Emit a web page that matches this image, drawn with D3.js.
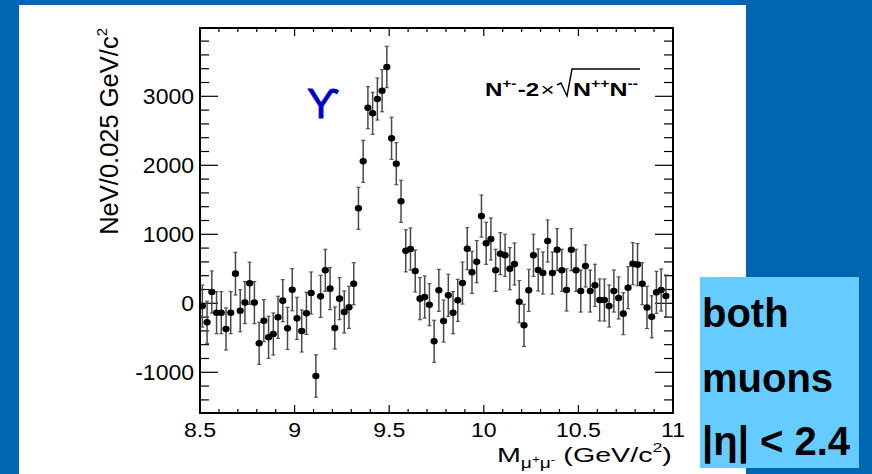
<!DOCTYPE html>
<html>
<head>
<meta charset="utf-8">
<script src="https://cdn.jsdelivr.net/npm/d3@7"></script>
<style>
html,body{margin:0;padding:0;background:#0066B2;}
svg{display:block;}
text{font-family:"Liberation Sans",Arial,Helvetica,sans-serif;}
</style>
</head>
<body>
<svg id="chart" width="872" height="474"></svg>
<script>
// ---- data ----
const binStart = 8.5;
const binWidth = 0.025;
const values = [
  -40, -275, 164, -136, -136, -372, -136, 430, -107, 10,
  290, 10, -580, -252, -493, -445, -203, 38, -363, 197,
  -218, -401, -145, 149, -1054, 101, 478, 212, -358, 67,
  -126, -58, 284, 1377, 2058, 2835, 2754, 2961, 3081, 3425,
  2391, 2023, 1478, 760, 787, 468, 67, 91, -20, -551,
  188, -257, 116, -136, 43, 294, 791, 449, 603, 1264,
  870, 932, 478, 719, 696, 501, 570, 23, -319, 188,
  696, 483, 439, 903, 439, 777, 478, 193, 777, 478,
  178, 541, 178, 261, 48, 48, -39, 178, 77, -150,
  226, 574, 560, 284, -60, -196, 159, 193, 106
];
const errors = [
  305, 305, 305, 305, 305, 305, 305, 310, 305, 305,
  305, 305, 305, 305, 305, 305, 305, 305, 305, 305,
  305, 305, 305, 305, 307, 305, 305, 305, 305, 305,
  305, 305, 305, 305, 305, 305, 305, 305, 305, 300,
  305, 305, 305, 305, 305, 305, 305, 305, 305, 305,
  305, 305, 305, 305, 305, 305, 305, 305, 305, 305,
  305, 305, 305, 305, 305, 305, 305, 305, 305, 305,
  305, 305, 305, 305, 305, 305, 305, 305, 305, 305,
  305, 305, 305, 305, 305, 305, 305, 305, 305, 305,
  305, 305, 305, 305, 305, 305, 305, 305, 305
];
const xTickValues = [8.5, 9, 9.5, 10, 10.5, 11];
const xTickLabels = ["8.5", "9", "9.5", "10", "10.5", "11"];
const yTickValues = [-1000, 0, 1000, 2000, 3000];
const yTickLabels = ["-1000", "0", "1000", "2000", "3000"];
const xDomain = [8.5, 11];
const yDomain = [-1590, 3990];

// ---- layout ----
const svg = d3.select("#chart");
const L = 200, R = 673, T = 28, B = 413;
const x = d3.scaleLinear().domain(xDomain).range([L, R]);
const y = d3.scaleLinear().domain(yDomain).range([B, T]);

// stretch a text element horizontally so that it spans `width` px
function fitWidth(sel, ax, ay, width, anchor) {
  const w = sel.node().getComputedTextLength();
  const s = width / w;
  const x0 = anchor === "end" ? ax - width : ax;
  sel.attr("x", 0).attr("y", 0).attr("text-anchor", "start")
     .attr("transform", `translate(${x0},${ay}) scale(${s},1)`);
}

// backgrounds
svg.append("rect").attr("x",0).attr("y",0).attr("width",872).attr("height",474).attr("fill","#0066B2");
svg.append("rect").attr("x",19).attr("y",5).attr("width",727).attr("height",469).attr("fill","#ffffff");

// ticks
const g = svg.append("g");
const xMinor = d3.range(85, 111).map(v => v/10);
const yMinor = d3.range(-14, 40, 2).map(v => v*100);
xMinor.forEach(v => {
  const major = Math.abs(v*2 - Math.round(v*2)) < 1e-6;
  const len = major ? 8 : 4;
  g.append("line").attr("x1",x(v)).attr("x2",x(v)).attr("y1",B).attr("y2",B-len).attr("stroke","#000").attr("stroke-width",1.2);
  g.append("line").attr("x1",x(v)).attr("x2",x(v)).attr("y1",T).attr("y2",T+len).attr("stroke","#000").attr("stroke-width",1.2);
});
yMinor.forEach(v => {
  const major = v % 1000 === 0;
  const len = major ? 18 : 9;
  g.append("line").attr("x1",L).attr("x2",L+len).attr("y1",y(v)).attr("y2",y(v)).attr("stroke","#000").attr("stroke-width",1.2);
  g.append("line").attr("x1",R).attr("x2",R-len).attr("y1",y(v)).attr("y2",y(v)).attr("stroke","#000").attr("stroke-width",1.2);
});

// frame
svg.append("rect").attr("x",L).attr("y",T).attr("width",R-L).attr("height",B-T)
  .attr("fill","none").attr("stroke","#000").attr("stroke-width",2);

// tick labels (slightly wide lettering, as in the reference)
xTickValues.forEach((v,i) => {
  svg.append("text").attr("transform",`translate(${x(v)},437) scale(1.1,1)`).attr("text-anchor","middle")
    .attr("font-size",21).attr("fill","#000").text(xTickLabels[i]);
});
yTickValues.forEach((v,i) => {
  svg.append("text").attr("transform",`translate(194,${y(v)+8}) scale(1.07,1)`).attr("text-anchor","end")
    .attr("font-size",21.5).attr("fill","#000").text(yTickLabels[i]);
});

// axis titles
const xt = svg.append("text").attr("font-size",21).attr("fill","#000");
xt.append("tspan").text("M");
xt.append("tspan").attr("font-size",14).attr("dy",6).text("μ");
xt.append("tspan").attr("font-size",10).attr("dy",-5).text("+");
xt.append("tspan").attr("font-size",14).attr("dy",5).text("μ");
xt.append("tspan").attr("font-size",10).attr("dy",-5).text("-");
xt.append("tspan").attr("font-size",21).attr("dy",-1).text(" (GeV/c");
xt.append("tspan").attr("font-size",13).attr("dy",-10).text("2");
xt.append("tspan").attr("font-size",21).attr("dy",10).text(")");
fitWidth(xt, 672, 462, 175, "end");

const yt = svg.append("text").attr("transform","translate(118,28) rotate(-90)")
  .attr("text-anchor","end").attr("font-size",25.5).attr("fill","#000");
yt.append("tspan").text("NeV/0.025 GeV/c");
yt.append("tspan").attr("font-size",15).attr("dy",-11).text("2");

// data: error bars + points
const pts = values.map((v,i) => ({x: binStart + binWidth*(i+0.5), v: v, e: errors[i]}));
const eb = svg.append("g").attr("stroke","#4a4a4a").attr("stroke-width",1.5);
pts.forEach(p => {
  const cx = x(p.x);
  eb.append("line").attr("x1",cx).attr("x2",cx).attr("y1",y(p.v-p.e)).attr("y2",y(p.v+p.e));
  eb.append("line").attr("x1",cx-2).attr("x2",cx+2).attr("y1",y(p.v-p.e)).attr("y2",y(p.v-p.e)).attr("stroke-width",1.1);
  eb.append("line").attr("x1",cx-2).attr("x2",cx+2).attr("y1",y(p.v+p.e)).attr("y2",y(p.v+p.e)).attr("stroke-width",1.1);
});
svg.append("g").selectAll("ellipse").data(pts).join("ellipse")
  .attr("cx",d => x(d.x)).attr("cy",d => y(d.v)).attr("rx",3.6).attr("ry",3.3).attr("fill","#000");

// Upsilon label
svg.append("text").attr("x",323).attr("y",118).attr("text-anchor","middle")
  .attr("font-family","'DejaVu Serif','Liberation Serif',serif").attr("font-size",42)
  .attr("fill","#0000CC").attr("stroke","#0000CC").attr("stroke-width",0.9).text("ϒ");

// formula legend
const f1 = svg.append("text").attr("font-size",19).attr("font-weight","bold").attr("fill","#000");
f1.append("tspan").text("N");
f1.append("tspan").attr("font-size",12).attr("dy",-8).text("+-");
f1.append("tspan").attr("font-size",19).attr("dy",8).attr("dx",1).text("-2");
f1.append("tspan").attr("font-weight","normal").attr("dx",1).text("×");
fitWidth(f1, 485, 96, 67, "start");
svg.append("path").attr("d","M557,85 L561,83 L567,96 L572,69 L640,69")
  .attr("fill","none").attr("stroke","#000").attr("stroke-width",1.4);
const f2 = svg.append("text").attr("font-size",19).attr("font-weight","bold").attr("fill","#000");
f2.append("tspan").text("N");
f2.append("tspan").attr("font-size",12).attr("dy",-8).text("++");
f2.append("tspan").attr("font-size",19).attr("dy",8).text("N");
f2.append("tspan").attr("font-size",12).attr("dy",-8).text("--");
fitWidth(f2, 573, 96, 65, "start");

// info box
svg.append("rect").attr("x",700).attr("y",277).attr("width",159).attr("height",191).attr("fill","#66CCFF");
const boxLines = ["both", "muons", "|η| < 2.4"];
const boxY = [327, 392, 455];
boxLines.forEach((t,i) => {
  svg.append("text").attr("x",702).attr("y",boxY[i]).attr("font-size",40).attr("font-weight","bold")
    .attr("fill","#000").text(t);
});
</script>
</body>
</html>
